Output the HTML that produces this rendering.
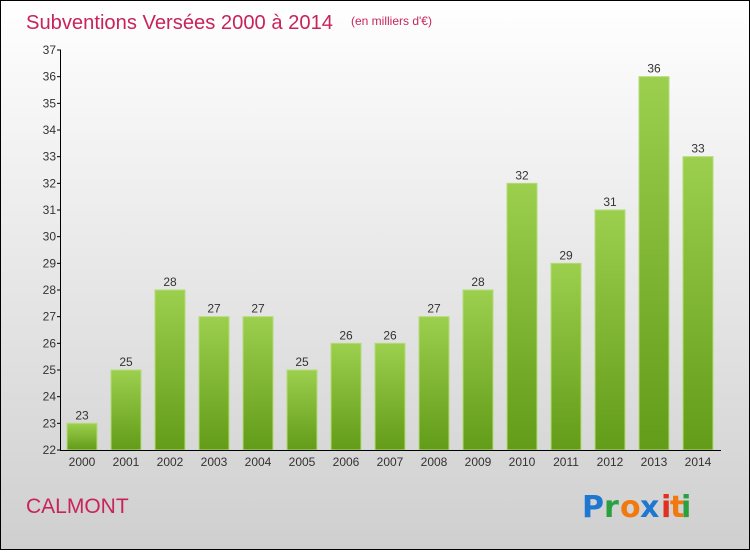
<!DOCTYPE html>
<html><head><meta charset="utf-8"><style>
body{margin:0;}
#c{width:750px;height:550px;}
</style></head><body>
<svg id="c" width="750" height="550" xmlns="http://www.w3.org/2000/svg" font-family="Liberation Sans, sans-serif">
<defs>
<linearGradient id="bg" x1="0" y1="0" x2="0" y2="1"><stop offset="0" stop-color="#ffffff"/><stop offset="1" stop-color="#cfcfcf"/></linearGradient>
<linearGradient id="bar" x1="0" y1="0" x2="0" y2="1"><stop offset="0" stop-color="#9ccf4e"/><stop offset="1" stop-color="#629c18"/></linearGradient>
</defs>
<rect x="0.5" y="0.5" width="749" height="549" fill="url(#bg)" stroke="#000"/>
<text x="26" y="29" font-size="20" fill="#c8235a" textLength="307" lengthAdjust="spacingAndGlyphs">Subventions Versées 2000 à 2014</text>
<text x="351" y="25" font-size="12" fill="#c8235a">(en milliers d'€)</text>
<text x="26" y="513" font-size="21" fill="#c8235a">CALMONT</text>
<g font-size="30" font-weight="bold" font-family="DejaVu Sans, sans-serif">
<text x="582" y="517" fill="#1e78d0">P</text><text x="604" y="517" fill="#2aa040">r</text><text x="620" y="517" fill="#f07a10">o</text><text x="640" y="517" fill="#1e78d0">x</text><text x="661" y="517" fill="#e03020">i</text><text x="670" y="517" fill="#f07a10">t</text><text x="681" y="517" fill="#2aa040">i</text>
</g>
<g id="plot"></g>
</svg>
<script>
const years=["2000","2001","2002","2003","2004","2005","2006","2007","2008","2009","2010","2011","2012","2013","2014"];
const values=[23,25,28,27,27,25,26,26,27,28,32,29,31,36,33];
const yTicks=[22,23,24,25,26,27,28,29,30,31,32,33,34,35,36,37];
const NS="http://www.w3.org/2000/svg";
const g=document.getElementById('plot');
const yMin=22,yMax=37,plotTop=50,plotBot=450;
const y=v=>plotBot-(v-yMin)/(yMax-yMin)*(plotBot-plotTop);
const x=i=>82+i*44;
function el(t,a){const e=document.createElementNS(NS,t);for(const k in a)e.setAttribute(k,a[k]);g.appendChild(e);return e;}
years.forEach((yr,i)=>{
 const r=el('rect',{x:x(i)-15,y:y(values[i]),width:30,height:plotBot-y(values[i]),fill:'url(#bar)',stroke:'#b4dc78','stroke-width':1});
 
 
 const t=el('text',{x:x(i),y:y(values[i])-4,'font-size':12,fill:'#333','text-anchor':'middle'});t.textContent=values[i];
 
 
 const xl=el('text',{x:x(i),y:466,'font-size':12,fill:'#333','text-anchor':'middle'});xl.textContent=yr;
 
 
});
yTicks.forEach(v=>{
 el('line',{x1:57,x2:61,y1:y(v),y2:y(v),stroke:'#000'});
 const t=el('text',{x:56,y:y(v)+4,'font-size':12,fill:'#333','text-anchor':'end'});t.textContent=v;
 
 
});
const ya=el('line',{x1:60.5,x2:60.5,y1:plotTop,y2:plotBot,stroke:'#000'});


const xa=el('line',{x1:60,x2:721,y1:plotBot+0.5,y2:plotBot+0.5,stroke:'#000'});


</script>
</body></html>
